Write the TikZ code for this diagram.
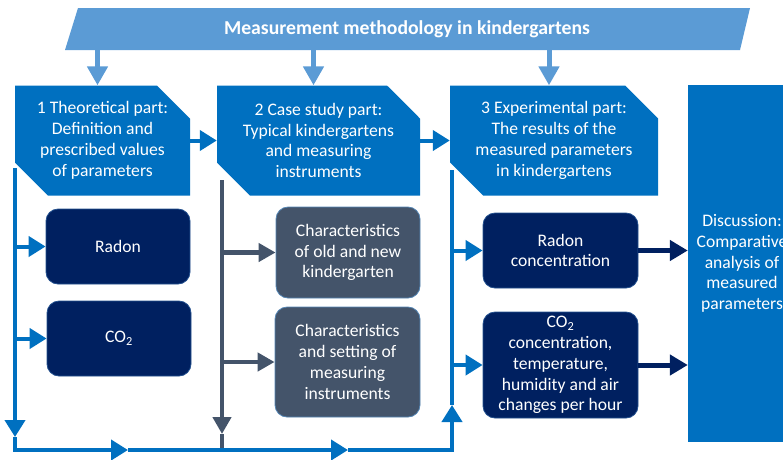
\documentclass[tikz,border=0pt]{standalone}
\usepackage{fontspec}
\setmainfont{Carlito}
\usepackage{tikz}
\usetikzlibrary{positioning,arrows.meta,shapes.misc,calc}
\definecolor{mblue}{HTML}{0070C0}
\definecolor{lblue}{HTML}{5B9BD5}
\definecolor{navy}{HTML}{002060}
\definecolor{slate}{HTML}{44546A}
\tikzset{
  part/.style={chamfered rectangle,chamfered rectangle corners={north east,south west},
    chamfered rectangle xsep=17pt,chamfered rectangle ysep=16pt,fill=mblue,text=white,
    align=center,minimum height=110pt,inner sep=0pt},
  navybox/.style={rounded corners=12pt,fill=navy,draw=navy!60!lblue,line width=0.8pt,
    text=white,align=center,inner sep=0pt},
  slatebox/.style={rounded corners=12pt,fill=slate,draw=lblue!70!slate,line width=0.8pt,
    text=white,align=center,inner sep=0pt},
  tarrow/.style={draw=lblue,line width=5pt,-{Triangle[length=19pt,width=20pt]}},
  barrow/.style={draw=mblue,line width=4pt,-{Triangle[length=17pt,width=20pt]}},
  sarrow/.style={draw=slate,line width=4.5pt,-{Triangle[length=17pt,width=18pt]}},
  narrow/.style={draw=navy,line width=5pt,-{Triangle[length=18pt,width=20pt]}},
}
\begin{document}
\begin{tikzpicture}[x=1pt,y=-1pt,every node/.style={font=\fontsize{17.6}{20.8}\selectfont}]
  \clip (0,0) rectangle (783,459);
  % title
  \fill[lblue] (78,8) -- (750,8) -- (740,50) -- (65,50) -- cycle;
  \node[minimum width=670pt,minimum height=42pt,inner sep=0pt,text=white,font=\fontsize{19.7}{23}\selectfont\bfseries] (title) at (407,29) {Measurement methodology in kindergartens};
  % three parts and discussion
  \node[part,minimum width=175pt] (theo) at (102.5,140.5) {1 Theoretical part:\\Definition and\\prescribed values\\of parameters};
  \node[part,minimum width=203pt] (case) at (318.5,140.5) {2 Case study part:\\Typical kindergartens\\and measuring\\instruments};
  \node[part,minimum width=208pt] (expe) at (554,140.5) {3 Experimental part:\\The results of the\\measured parameters\\in kindergartens};
  \node[fill=mblue,text=white,align=center,minimum width=108pt,minimum height=357pt,inner sep=0pt] (disc) at (742,263.5) {Discussion:\\Comparative\\analysis of\\measured\\parameters};
  % sub boxes
  \node[navybox,minimum width=144pt,minimum height=75pt] (radon) at (118,246.5) {Radon};
  \node[navybox,minimum width=144pt,minimum height=75pt] (co) at (119,338.5) {CO\textsubscript{2}};
  \node[slatebox,minimum width=144pt,minimum height=91pt] (old) at (348,252.5) {Characteristics\\of old and new\\kindergarten};
  \node[slatebox,minimum width=145pt,minimum height=110pt] (inst) at (347.5,362) {Characteristics\\and setting of\\measuring\\instruments};
  \node[navybox,minimum width=155pt,minimum height=75pt] (rconc) at (560.5,250.5) {Radon\\concentration};
  \node[navybox,minimum width=155pt,minimum height=106pt] (cconc) at (560.5,365) {CO\textsubscript{2}\\concentration,\\temperature,\\humidity and air\\changes per hour};
  % title arrows
  \foreach \b in {theo,case,expe}
    \draw[tarrow] ([xshift=-5pt]title.south -| \b.north) -- ([xshift=-5pt]\b.north);
  \draw[barrow] (theo.east) -- (case.west);
  \draw[barrow] (case.east) -- (expe.west);
  % slate column
  \coordinate (s0) at (222,180);
  \coordinate (sd) at (222,434);
  \coordinate (sb) at (222,450);
  \draw[sarrow] (s0) -- (sd);
  \draw[draw=slate,line width=4.5pt] (sd) -- (sb);
  \draw[sarrow] (old.west -| s0) -- (old.west);
  \draw[sarrow] (inst.west -| s0) -- (inst.west);
  % blue loop
  \coordinate (l0) at (15,168);
  \coordinate (ld) at (15,437);
  \coordinate (lc) at (15,450);
  \coordinate (b1) at (128,450);
  \coordinate (b2) at (348,450);
  \coordinate (rc) at (452,450);
  \coordinate (ru) at (452,405);
  \coordinate (r0) at (452,170);
  \draw[barrow] (l0) -- (ld);
  \draw[barrow] (ld) -- (lc) -- (b1);
  \draw[barrow] (b1) -- (b2);
  \draw[barrow] (b2) -- (rc) -- (ru);
  \draw[draw=mblue,line width=4pt] (ru) -- (r0);
  \draw[barrow] (radon.west -| l0) -- (radon.west);
  \draw[barrow] (co.west -| l0) -- (co.west);
  \draw[barrow] (rconc.west -| r0) -- (rconc.west);
  \draw[barrow] (cconc.west -| r0) -- (cconc.west);
  % to discussion
  \draw[narrow] (rconc.east) -- (rconc.east -| disc.west);
  \draw[narrow] (cconc.east) -- (cconc.east -| disc.west);
\end{tikzpicture}
\end{document}
